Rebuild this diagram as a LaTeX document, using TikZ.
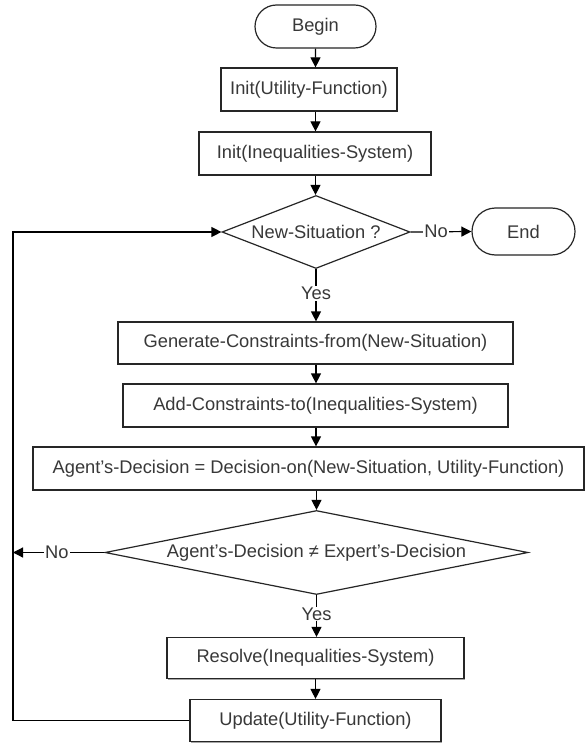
\documentclass[tikz,border=0pt]{standalone}
\usepackage{fontspec}
\setmainfont{Liberation Sans}
\usetikzlibrary{shapes.geometric,shapes.misc,arrows.meta,shadows}
\begin{document}
\begin{tikzpicture}[x=1pt,y=-1pt,
  font=\fontsize{18.3}{20}\selectfont,
  every node/.style={text=black!78},
  boxshadow/.style={drop shadow={shadow xshift=1.4pt,shadow yshift=-1.4pt,fill=black!35,opacity=1}},
  proc/.style={draw=black!85,line width=1.2pt,fill=white,rectangle,inner sep=0pt,boxshadow},
  term/.style={draw=black!85,line width=1.2pt,fill=white,rounded rectangle,inner sep=0pt},
  dec/.style={draw=black!85,line width=1.2pt,fill=white,diamond,inner sep=0pt},
  arr/.style={draw=black,line width=1.2pt,-{Triangle[length=10pt,width=10pt]}},
  lab/.style={fill=white,inner sep=1pt}]
\useasboundingbox[fill=white] (0,0) rectangle (585,743);

% main column of steps
\node[term,minimum width=121pt,minimum height=43pt] (begin) at (315.5,26.5) {Begin};
\node[proc,minimum width=176pt,minimum height=43pt] (initu) at (309,89.5) {Init(Utility-Function)};
\node[proc,minimum width=232pt,minimum height=43pt] (initi) at (315,153.5) {Init(Inequalities-System)};
\node[dec,aspect=2.575,minimum width=188pt,minimum height=73pt] (ns) at (316,232) {New-Situation ?};
\node[term,minimum width=103pt,minimum height=47pt] (end) at (523.5,231.5) {End};
\node[proc,minimum width=395pt,minimum height=42pt] (gen) at (315.5,343) {Generate-Constraints-from(New-Situation)};
\node[proc,minimum width=385pt,minimum height=43pt] (add) at (315.5,405.5) {Add-Constraints-to(Inequalities-System)};
\node[proc,minimum width=551pt,minimum height=43pt] (agent) at (308.5,468.5) {Agent’s-Decision = Decision-on(New-Situation, Utility-Function)};
\node[dec,aspect=5.04,minimum width=423pt,minimum height=84pt] (ne) at (316.5,552.5) {Agent’s-Decision ≠ Expert’s-Decision};
\node[proc,minimum width=297pt,minimum height=41pt] (res) at (315.5,658) {Resolve(Inequalities-System)};
\node[proc,minimum width=251pt,minimum height=42pt] (upd) at (315.5,720.5) {Update(Utility-Function)};

% loop corner on the left
\coordinate (lb) at (13,720.5);

% connectors
\draw[arr] (begin) -- (begin |- initu.north);
\draw[arr] (begin |- initu.south) -- (begin |- initi.north);
\draw[arr] (begin |- initi.south) -- (begin |- ns.north);
\draw[arr] (ns.east) -- node[lab,pos=0.42]{No} (end.west);
\draw[arr] (ns.south) -- node[lab,pos=0.46]{Yes} (ns.south |- gen.north);
\draw[arr] (ns.south |- gen.south) -- (ns.south |- add.north);
\draw[arr] (ns.south |- add.south) -- (ns.south |- agent.north);
\draw[arr] (ne.north |- agent.south) -- (ne.north);
\draw[arr] (ne.south) -- node[lab,pos=0.45]{Yes} (ne.south |- res.north);
\draw[arr] (res) -- (res |- upd.north);
\draw[arr] (ne.west) -- node[lab,pos=0.52]{No} (ne.west -| lb);
\draw[arr] (upd.west) -- (lb) |- (ns.west);
\end{tikzpicture}
\end{document}
